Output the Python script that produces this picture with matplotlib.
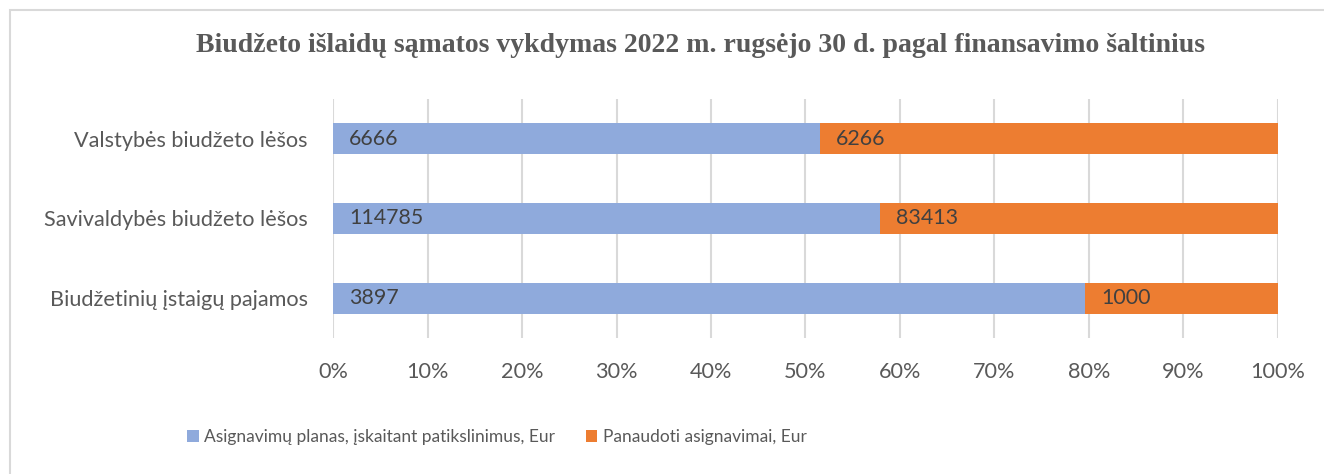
import numpy as np
import matplotlib.pyplot as plt
from matplotlib.patches import Rectangle

# Data
categories = ['Biudžetinių įstaigų pajamos', 'Savivaldybės biudžeto lėšos', 'Valstybės biudžeto lėšos']
planas = [3897, 114785, 6666]
panaudoti = [1000, 83413, 6266]
series_names = ['Asignavimų planas, įskaitant patikslinimus, Eur', 'Panaudoti asignavimai, Eur']
title = 'Biudžeto išlaidų sąmatos vykdymas 2022 m. rugsėjo 30 d. pagal finansavimo šaltinius'

blue = '#8FAADC'
orange = '#ED7D31'
txt = '#595959'

plt.rcParams['font.family'] = ['Lato', 'DejaVu Sans']

planas_a = np.array(planas, dtype=float)
panaudoti_a = np.array(panaudoti, dtype=float)
total = planas_a + panaudoti_a
p1 = planas_a / total
p2 = panaudoti_a / total

fig = plt.figure(figsize=(13.24, 4.74), dpi=100)
ax = fig.add_axes([333/1324, 1 - 338/474, 945/1324, 239/474])

y = np.arange(len(categories))
ax.barh(y, p1, height=0.39, color=blue, label=series_names[0], zorder=3)
ax.barh(y, p2, left=p1, height=0.39, color=orange, label=series_names[1], zorder=3)

for i in range(len(categories)):
    ax.text(0.017, y[i], str(planas[i]), va='center', ha='left', fontsize=15.4, color='#404040', zorder=4)
    ax.text(p1[i] + 0.017, y[i], str(panaudoti[i]), va='center', ha='left', fontsize=15.4, color='#404040', zorder=4)

ax.set_xlim(0, 1)
ax.set_ylim(-0.5, 2.5)
ax.set_xticks(np.linspace(0, 1, 11))
ax.set_xticklabels([f'{int(v)}%' for v in np.linspace(0, 100, 11)])
ax.set_yticks(y)
ax.set_yticklabels(categories)
ax.tick_params(axis='both', length=0, labelsize=15.6, labelcolor=txt)
ax.tick_params(axis='x', pad=17)
ax.tick_params(axis='y', pad=18)
ax.grid(axis='x', color='#D9D9D9', linewidth=1.5, zorder=0)
for s in ax.spines.values():
    s.set_visible(False)

fig.text(701/1324, 1 - 45/474, title, ha='center', va='center', fontsize=20,
         fontweight='bold', family='Liberation Serif', color=txt)

leg = fig.legend(loc='center', bbox_to_anchor=(497/1324, 1 - 437/474), ncol=2, frameon=False,
                 prop={'family': ['Lato'], 'size': 12.5},
                 handlelength=0.65, handleheight=0.65, handletextpad=0.3,
                 columnspacing=1.8, labelcolor=txt)

# outer chart border
fig.patches.append(Rectangle((10/1324, -0.05), 1.1, 1 - 10/474 + 0.05, transform=fig.transFigure,
                             fill=False, edgecolor='#D9D9D9', linewidth=1.5))

fig.savefig('out.png', dpi=100)
